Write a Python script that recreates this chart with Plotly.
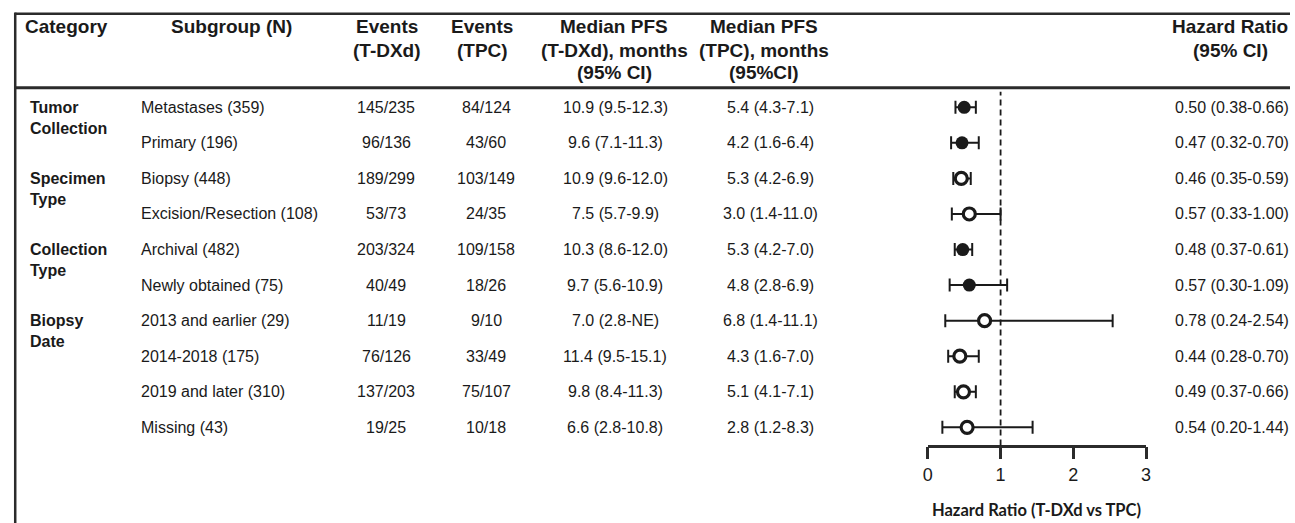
import plotly.graph_objects as go

# ---- data -------------------------------------------------------------
categories = ["Tumor Collection", "Specimen Type", "Collection Type", "Biopsy Date"]
row_category = (["Tumor Collection"] * 2 + ["Specimen Type"] * 2
                + ["Collection Type"] * 2 + ["Biopsy Date"] * 4)
subgroups = ["Metastases (359)", "Primary (196)", "Biopsy (448)",
             "Excision/Resection (108)", "Archival (482)", "Newly obtained (75)",
             "2013 and earlier (29)", "2014-2018 (175)", "2019 and later (310)",
             "Missing (43)"]

events_tdxd = [145, 96, 189, 53, 203, 40, 11, 76, 137, 19]
n_tdxd = [235, 136, 299, 73, 324, 49, 19, 126, 203, 25]
events_tpc = [84, 43, 103, 24, 109, 18, 9, 33, 75, 10]
n_tpc = [124, 60, 149, 35, 158, 26, 10, 49, 107, 18]

median_tdxd = [10.9, 9.6, 10.9, 7.5, 10.3, 9.7, 7.0, 11.4, 9.8, 6.6]
median_tdxd_lo = [9.5, 7.1, 9.6, 5.7, 8.6, 5.6, 2.8, 9.5, 8.4, 2.8]
median_tdxd_hi = [12.3, 11.3, 12.0, 9.9, 12.0, 10.9, None, 15.1, 11.3, 10.8]  # None = not estimable

median_tpc = [5.4, 4.2, 5.3, 3.0, 5.3, 4.8, 6.8, 4.3, 5.1, 2.8]
median_tpc_lo = [4.3, 1.6, 4.2, 1.4, 4.2, 2.8, 1.4, 1.6, 4.1, 1.2]
median_tpc_hi = [7.1, 6.4, 6.9, 11.0, 7.0, 6.9, 11.1, 7.0, 7.1, 8.3]

hr = [0.50, 0.47, 0.46, 0.57, 0.48, 0.57, 0.78, 0.44, 0.49, 0.54]
hr_lo = [0.38, 0.32, 0.35, 0.33, 0.37, 0.30, 0.24, 0.28, 0.37, 0.20]
hr_hi = [0.66, 0.70, 0.59, 1.00, 0.61, 1.09, 2.54, 0.70, 0.66, 1.44]

hr_ticks = [0, 1, 2, 3]

# ---- layout constants -------------------------------------------------
W, H = 1295, 523
FONT = "Liberation Sans, Arial, Helvetica, sans-serif"
INK = "#1a1a1a"
LINE = "#2b2b2b"
HEAD_SIZE = 19
BODY_SIZE = 16
OPEN_GROUPS = {"Specimen Type", "Biopsy Date"}
PAD = 6  # annotation box padding compensation for left/right anchored text

# y axis spans the full height; rows sit at integer positions
ROW0_PX, ROW_STEP = 107.3, 35.56
y_top = -ROW0_PX / ROW_STEP
y_bot = (H - ROW0_PX) / ROW_STEP


def px(x):
    return x / W


def py(y):
    return 1 - y / H


def fmt_ci(m, lo, hi):
    hi_s = "NE" if hi is None else f"{hi:.1f}"
    return f"{m:.1f} ({lo:.1f}-{hi_s})"


fig = go.Figure()

rows = list(range(len(subgroups)))
for style in ("filled", "open"):
    idx = [i for i in rows if (row_category[i] in OPEN_GROUPS) == (style == "open")]
    fig.add_trace(go.Scatter(
        x=[hr[i] for i in idx],
        y=idx,
        mode="markers",
        marker=dict(
            symbol="circle",
            size=13 if style == "filled" else 12,
            color=INK if style == "filled" else "white",
            line=dict(color=INK, width=0 if style == "filled" else 3.2),
        ),
        error_x=dict(
            type="data", symmetric=False,
            array=[hr_hi[i] - hr[i] for i in idx],
            arrayminus=[hr[i] - hr_lo[i] for i in idx],
            color=INK, thickness=2, width=6.5,
        ),
        cliponaxis=False,
        showlegend=False,
        hoverinfo="skip",
    ))

ann = []


def text(x, y, s, size=BODY_SIZE, bold=False, anchor="center", yref="y", family=FONT):
    shift = {"left": -PAD, "right": PAD}.get(anchor, 0)
    ann.append(dict(
        x=x, y=y, xref="paper", yref=yref, text=f"<b>{s}</b>" if bold else s,
        showarrow=False, xanchor=anchor, yanchor="middle", xshift=shift,
        font=dict(family=family, size=size, color=INK),
    ))


# header rows
header = [
    (24, "left", ["Category"]),
    (228, "center", ["Subgroup (N)"]),
    (385, "center", ["Events", "(T-DXd)"]),
    (481, "center", ["Events", "(TPC)"]),
    (614, "center", ["Median PFS", "(T-DXd), months", "(95% CI)"]),
    (765, "center", ["Median PFS", "(TPC), months", "(95%CI)"]),
    (1235, "center", ["Hazard Ratio", "(95% CI)"]),
]
header_line_px = [27, 50, 72]
for x, anchor, lines in header:
    for k, s in enumerate(lines):
        text(px(x), py(header_line_px[k]), s, size=HEAD_SIZE, bold=True,
             anchor=anchor, yref="paper")

# category labels (first row of each group, two lines)
for cat in categories:
    first = row_category.index(cat)
    ann.append(dict(
        x=px(29), y=first, xref="paper", yref="y",
        text="<b>" + cat.replace(" ", "<br>") + "</b>",
        showarrow=False, xanchor="left", yanchor="middle", align="left",
        xshift=-PAD, yshift=-10.5,
        font=dict(family=FONT, size=BODY_SIZE, color=INK),
    ))

# table body
for i in rows:
    text(px(141.5), i, subgroups[i], anchor="left")
    text(px(384), i, f"{events_tdxd[i]}/{n_tdxd[i]}")
    text(px(485), i, f"{events_tpc[i]}/{n_tpc[i]}")
    text(px(615), i, fmt_ci(median_tdxd[i], median_tdxd_lo[i], median_tdxd_hi[i]))
    text(px(771), i, fmt_ci(median_tpc[i], median_tpc_lo[i], median_tpc_hi[i]))
    text(px(1290), i, f"{hr[i]:.2f} ({hr_lo[i]:.2f}-{hr_hi[i]:.2f})", anchor="right")

# axis title
ann.append(dict(
    x=1.5, y=py(509.5), xref="x", yref="paper",
    text="<b>Hazard Ratio (T-DXd vs TPC)</b>", showarrow=False,
    xanchor="center", yanchor="middle",
    font=dict(family="Lato, Open Sans, sans-serif", size=16.5, color=INK),
))

AXIS_PX = 445.5
shapes = [
    # table frame
    dict(type="line", xref="paper", yref="paper", x0=px(10.3), x1=1.0,
         y0=py(13.7), y1=py(13.7), line=dict(color=LINE, width=2.5)),
    dict(type="line", xref="paper", yref="paper", x0=px(10.3), x1=1.0,
         y0=py(87.7), y1=py(87.7), line=dict(color=LINE, width=3)),
    dict(type="line", xref="paper", yref="paper", x0=px(10.3), x1=px(10.3),
         y0=py(12.5), y1=0, line=dict(color=LINE, width=2.5)),
    # line of no effect
    dict(type="line", xref="x", yref="paper", x0=1, x1=1,
         y0=py(AXIS_PX), y1=py(91.7), line=dict(color=INK, width=1.8, dash="6px,4px")),
]

fig.update_layout(
    width=W, height=H,
    margin=dict(l=0, r=0, t=0, b=0),
    paper_bgcolor="white", plot_bgcolor="white",
    showlegend=False,
    annotations=ann,
    shapes=shapes,
    xaxis=dict(
        domain=[px(930), px(1150)], range=[0, 3],
        anchor="free", position=py(AXIS_PX),
        showline=True, linecolor=LINE, linewidth=2.5,
        ticks="outside", ticklen=12, tickwidth=2.5, tickcolor=LINE,
        tickvals=hr_ticks, ticktext=[str(t) for t in hr_ticks],
        tickfont=dict(family=FONT, size=18, color=INK),
        showgrid=False, zeroline=False,
    ),
    yaxis=dict(
        domain=[0, 1], range=[y_bot, y_top],
        visible=False, showgrid=False, zeroline=False,
    ),
)

fig.write_html("out.html")
